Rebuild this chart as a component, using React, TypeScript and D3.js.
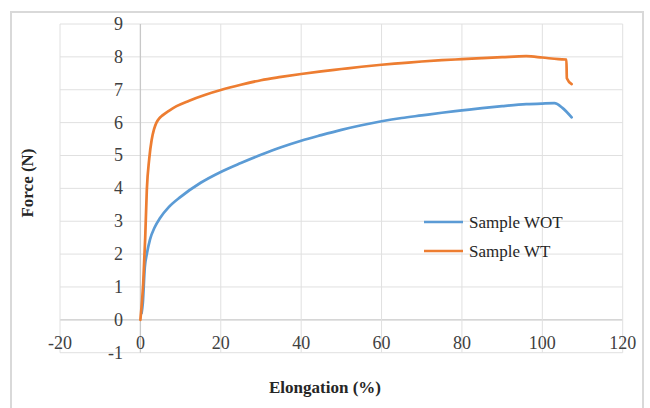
import React from "react";
import * as d3 from "d3";

const xTicks = [-20, 0, 20, 40, 60, 80, 100, 120];
const yTicks = [-1, 0, 1, 2, 3, 4, 5, 6, 7, 8, 9];

const seriesNames = ["Sample WOT", "Sample WT"];
const seriesColors = ["#5B9BD5", "#ED7D31"];

const wotX = [0.3, 0.6, 1.1, 1.6, 2.4, 3.5, 4.9, 7, 10, 15, 20, 25, 30, 35, 40, 45, 50, 55, 60, 65, 70, 75, 80, 85, 90, 96, 100, 103, 105, 107.3];
const wotY = [0.2, 0.5, 1.6, 2.0, 2.45, 2.8, 3.1, 3.42, 3.74, 4.17, 4.5, 4.77, 5.02, 5.25, 5.45, 5.62, 5.78, 5.92, 6.04, 6.14, 6.22, 6.3, 6.37, 6.44, 6.5, 6.56, 6.58, 6.59, 6.45, 6.16];

const wtX = [0, 0.7, 1.2, 1.6, 2.2, 2.8, 3.4, 4.0, 4.7, 5.5, 7, 9, 12, 16, 20, 25, 30, 35, 40, 45, 50, 55, 60, 65, 70, 75, 80, 85, 90, 96, 100, 104, 106, 106.1, 107.3];
const wtY = [0, 1.1, 2.5, 3.95, 4.9, 5.47, 5.8, 6.0, 6.13, 6.22, 6.35, 6.5, 6.66, 6.84, 6.99, 7.15, 7.29, 7.39, 7.48, 7.56, 7.63, 7.7, 7.76, 7.81, 7.86, 7.9, 7.93, 7.96, 7.99, 8.02, 7.98, 7.93, 7.92, 7.35, 7.17];

const FONT = "'Liberation Serif', 'Times New Roman', serif";

export default function App() {
  const x = d3.scaleLinear().domain([-20, 120]).range([60, 622.7]);
  const y = d3.scaleLinear().domain([-1, 9]).range([352.7, 24]);

  const line = d3
    .line<[number, number]>()
    .x((d) => x(d[0]))
    .y((d) => y(d[1]))
    .curve(d3.curveMonotoneX);

  const series = [
    wotX.map((v, i) => [v, wotY[i]] as [number, number]),
    wtX.map((v, i) => [v, wtY[i]] as [number, number]),
  ];

  return (
    <svg
      width={650}
      height={408}
      style={{ position: "absolute", left: 0, top: 0, background: "#fff" }}
    >
      <rect x={0} y={0} width={650} height={408} fill="#fff" />
      <rect x={11} y={12} width={632} height={410} fill="#fff" stroke="#d9d9d9" strokeWidth={2} />
      {yTicks.map((t) => (
        <line
          key={"gy" + t}
          x1={x(-20)}
          x2={x(120)}
          y1={y(t)}
          y2={y(t)}
          stroke={t === 0 ? "#c8c8c8" : "#e0e0e0"}
          strokeWidth={t === 0 ? 1.3 : 1}
        />
      ))}
      {xTicks.map((t) => (
        <line
          key={"gx" + t}
          x1={x(t)}
          x2={x(t)}
          y1={y(9)}
          y2={y(-1)}
          stroke={t === 0 ? "#c8c8c8" : "#e0e0e0"}
          strokeWidth={t === 0 ? 1.3 : 1}
        />
      ))}
      {yTicks.map((t) => (
        <text
          key={"ly" + t}
          x={123}
          y={y(t) + 6}
          textAnchor="end"
          fontFamily={FONT}
          fontSize={18}
          fill="#404040"
        >
          {t}
        </text>
      ))}
      {xTicks.map((t) => (
        <text
          key={"lx" + t}
          x={x(t)}
          y={349}
          textAnchor="middle"
          fontFamily={FONT}
          fontSize={18}
          fill="#404040"
        >
          {t}
        </text>
      ))}
      {series.map((s, i) => (
        <path
          key={"s" + i}
          d={line(s) || ""}
          fill="none"
          stroke={seriesColors[i]}
          strokeWidth={2.7}
          strokeLinejoin="round"
          strokeLinecap="round"
        />
      ))}
      {seriesNames.map((n, i) => (
        <g key={"lg" + i}>
          <line x1={424} x2={463} y1={222 + i * 29} y2={222 + i * 29} stroke={seriesColors[i]} strokeWidth={2.7} />
          <text x={469} y={228 + i * 29} fontFamily={FONT} fontSize={17} fill="#262626">
            {n}
          </text>
        </g>
      ))}
      <text
        x={325}
        y={393}
        textAnchor="middle"
        fontFamily={FONT}
        fontSize={17}
        fontWeight="bold"
        fill="#262626"
      >
        Elongation (%)
      </text>
      <text
        transform="translate(33,183) rotate(-90)"
        textAnchor="middle"
        fontFamily={FONT}
        fontSize={17}
        fontWeight="bold"
        fill="#262626"
      >
        Force (N)
      </text>
    </svg>
  );
}
